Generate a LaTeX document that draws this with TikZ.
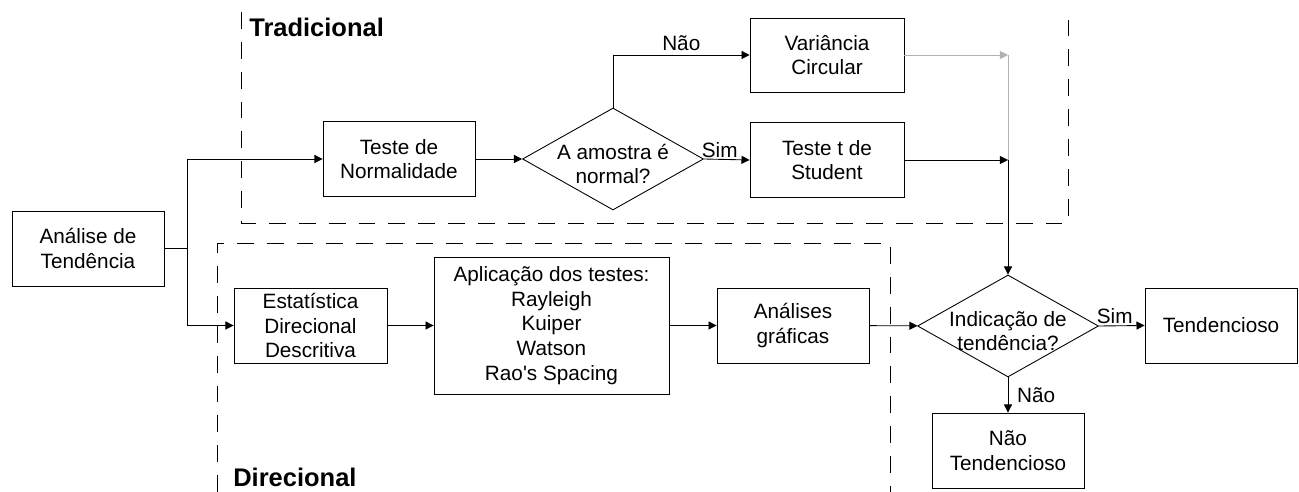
\documentclass[tikz,border=0pt]{standalone}
\usepackage{fontspec}
\setmainfont{Liberation Sans}
\usetikzlibrary{arrows.meta,shapes.geometric}

\newcommand{\dectext}[2]{\makebox[0pt][c]{\raisebox{-7.4pt}[0pt][0pt]{\begin{tabular}{@{}c@{}}#1\\#2\end{tabular}}}}

\begin{document}
\begin{tikzpicture}[x=0.02cm,y=-0.02cm,
  every node/.style={font=\fontsize{11.8}{14}\selectfont},
  box/.style={draw,line width=0.5pt,align=center,inner sep=0pt,
    minimum width=3.04cm,minimum height=1.5cm},
  decision/.style={draw,line width=0.5pt,shape=diamond,inner sep=0pt,
    minimum width=3.62cm,minimum height=2.04cm},
  arr/.style={line width=0.5pt,-{Triangle[length=4.6pt,width=4.6pt]}},
  region/.style={line width=0.5pt,dash pattern=on 9.6pt off 7.4pt},
  title/.style={font=\fontsize{14.5}{17}\selectfont\bfseries,anchor=base west,inner sep=0pt}]
\useasboundingbox (0,0) rectangle (1299,492);

% regioes tracejadas
\draw[region] (241,12)--(241,223)--(1068,223)--(1068,12);
\draw[region] (217,492)--(217,243)--(890,243)--(890,492);
\node[title] (trad) at (249,37) {Tradicional};
\node[title] (dir) at (233,487) {Direcional};

% blocos
\node[box] (ana) at (88,248.5) {Análise de\\Tendência};
\node[box] (norm) at (399,159) {Teste de\\Normalidade};
\node[decision] (amostra) at (613,159) {\dectext{A amostra é}{normal?}};
\node[box,minimum width=3.08cm,minimum height=1.48cm] (vari) at (827,55) {Variância\\Circular};
\node[box,minimum width=3.08cm] (stud) at (827,160) {Teste t de\\Student};
\node[box,minimum width=3.06cm] (est) at (310.5,325.5) {Estatística\\Direcional\\Descritiva};
\node[box,minimum width=4.7cm,minimum height=2.74cm] (apl) at (551.5,325.5)
  {Aplicação dos testes:\\Rayleigh\\Kuiper\\Watson\\Rao\textquotesingle s Spacing};
\node[box] (graf) at (793,325.5) {Análises\\gráficas};
\node[decision] (ind) at (1008,326) {\dectext{Indicação de}{tendência?}};
\node[box] (tend) at (1221,325.5) {Tendencioso};
\node[box] (ntend) at (1008,450.5) {Não\\Tendencioso};

\coordinate (br) at (187,248.5);
\coordinate (cv) at (1008,55);
\coordinate (cs) at (1008,160);

% ligacoes
\draw[line width=0.5pt] (ana.east)--(br);
\draw[arr] (br) |- (norm.west);
\draw[arr] (br) |- (est.west);
\draw[arr] (norm)--(amostra);
\draw[arr] (amostra.north) |- node[pos=0.75,above,inner sep=2pt] {Não} (vari.west);
\draw[arr] (amostra.east)--node[above,inner sep=1pt,xshift=-4pt] {Sim} (stud.west);
\draw[arr,black!30] (vari.east)--(cv);
\draw[arr] (stud.east)--(cs);
\draw[line width=0.5pt,black!30] (cv)--(cs);
\draw[arr] (cs)--(ind.north);
\draw[arr] (est)--(apl);
\draw[arr] (apl)--(graf);
\draw[arr] (graf)--(ind);
\draw[arr] (ind.east)--node[above,inner sep=1pt,xshift=-4pt] {Sim} (tend.west);
\draw[arr] (ind.south)--node[right,inner sep=5pt] {Não} (ntend.north);

\end{tikzpicture}
\end{document}
